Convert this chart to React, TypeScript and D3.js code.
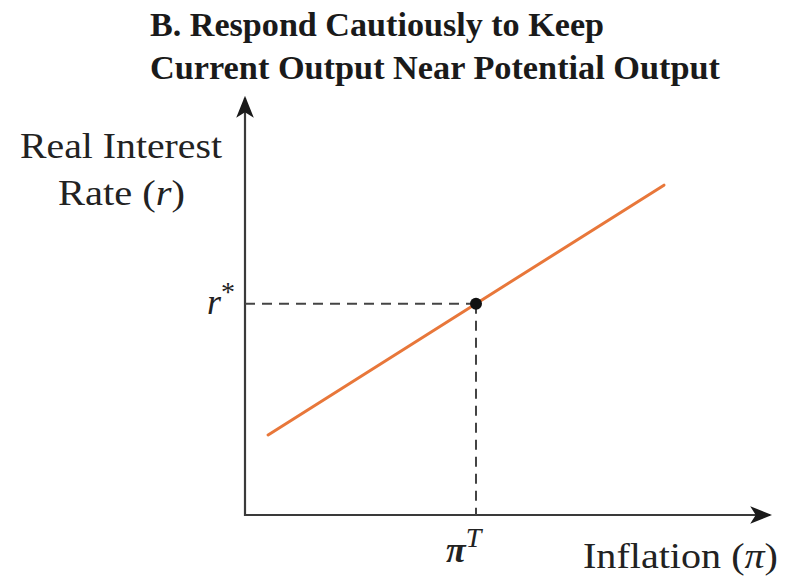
import React from "react";
import * as d3 from "d3";

// Policy rule in axis units (0–100 on each axis)
const ruleLine = [
  { pi: 4.4, r: 19.2 },
  { pi: 79.8, r: 79.1 },
];
const piTarget = 44;
const rStar = 50.65;
const titleLines = ["B. Respond Cautiously to Keep", "Current Output Near Potential Output"];
const yAxisLabel = ["Real Interest", "Rate ("];
const xAxisLabel = "Inflation (";

const W = 791;
const H = 578;

export default function App() {
  const x = d3.scaleLinear().domain([0, 100]).range([245, 770]);
  const y = d3.scaleLinear().domain([0, 100]).range([515, 98]);
  const line = d3
    .line<{ pi: number; r: number }>()
    .x((d) => x(d.pi))
    .y((d) => y(d.r));

  const serif = "'Liberation Serif', 'Times New Roman', serif";
  const axisColor = "#3a3a3a";

  return (
    <svg
      width={W}
      height={H}
      style={{ position: "absolute", left: 0, top: 0, background: "#fff" }}
    >
      <defs>
        <marker
          id="arrowHead"
          viewBox="0 0 20 20"
          refX="18"
          refY="10"
          markerWidth="22"
          markerHeight="22"
          markerUnits="userSpaceOnUse"
          orient="auto"
        >
          <path d="M0,2 L20,10 L0,18 L5,10 Z" fill="#1a1a1a" />
        </marker>
      </defs>

      {/* Title */}
      <g fontFamily={serif} fontWeight="bold" fontSize={33} fill="#1a1a1a">
        <text x={150} y={36} textLength={454} lengthAdjust="spacingAndGlyphs">
          {titleLines[0]}
        </text>
        <text x={150} y={79} textLength={570} lengthAdjust="spacingAndGlyphs">
          {titleLines[1]}
        </text>
      </g>

      {/* Axes */}
      <line
        x1={x(0)}
        y1={y(0) + 1}
        x2={x(0)}
        y2={y(100)}
        stroke={axisColor}
        strokeWidth={2.2}
        markerEnd="url(#arrowHead)"
      />
      <line
        x1={x(0) - 1}
        y1={y(0)}
        x2={x(100)}
        y2={y(0)}
        stroke={axisColor}
        strokeWidth={2.2}
        markerEnd="url(#arrowHead)"
      />

      {/* Guide lines to the target point */}
      <line
        x1={x(0)}
        y1={y(rStar)}
        x2={x(piTarget)}
        y2={y(rStar)}
        stroke="#444"
        strokeWidth={2}
        strokeDasharray="10,7"
      />
      <line
        x1={x(piTarget)}
        y1={y(rStar)}
        x2={x(piTarget)}
        y2={y(0)}
        stroke="#444"
        strokeWidth={2}
        strokeDasharray="10,7"
      />

      {/* Policy rule */}
      <path
        d={line(ruleLine) ?? ""}
        fill="none"
        stroke="#E8773A"
        strokeWidth={3}
        strokeLinecap="round"
      />
      <circle cx={x(piTarget)} cy={y(rStar)} r={6} fill="#111" />

      {/* Axis labels */}
      <g fontFamily={serif} fontSize={36} fill="#222">
        <text x={20} y={158} textLength={202} lengthAdjust="spacingAndGlyphs">
          {yAxisLabel[0]}
        </text>
        <text x={58} y={205} textLength={127} lengthAdjust="spacingAndGlyphs">
          {yAxisLabel[1]}
          <tspan fontStyle="italic">r</tspan>)
        </text>
        <text x={235} y={314} textAnchor="end">
          <tspan fontStyle="italic">r</tspan>
          <tspan fontSize={28} dy={-13}>*</tspan>
        </text>
        <text x={446} y={562}>
          <tspan fontStyle="italic" fontWeight="bold">π</tspan>
          <tspan fontStyle="italic" fontSize={28} dy={-15}>T</tspan>
        </text>
        <text x={583} y={568} textLength={195} lengthAdjust="spacingAndGlyphs">
          {xAxisLabel}
          <tspan fontStyle="italic">π</tspan>)
        </text>
      </g>
    </svg>
  );
}
